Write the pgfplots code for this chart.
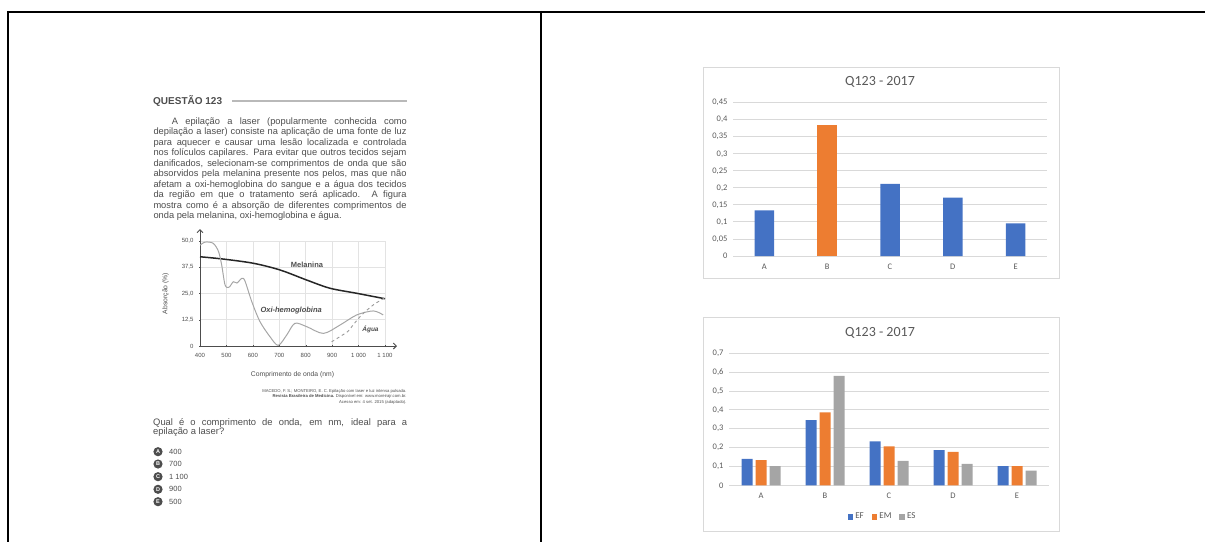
\documentclass[border=0pt]{standalone}
\usepackage{fontspec}
\setmainfont{Carlito}
\newfontfamily\scanfont{Liberation Sans}
\usepackage{pgfplots}
\pgfplotsset{compat=1.18}
\usetikzlibrary{arrows.meta}

\definecolor{exblue}{HTML}{4472C4}
\definecolor{exorange}{HTML}{ED7D31}
\definecolor{exgray}{HTML}{A5A5A5}
\definecolor{txtgray}{HTML}{595959}
\definecolor{gridgray}{HTML}{D9D9D9}
\definecolor{scantext}{HTML}{4D4D4D}

\pgfplotsset{
  excelbars/.style={
    scale only axis,
    xmin=-0.5, xmax=4.5, ymin=0,
    xtick={0,1,2,3,4},
    xticklabels={A,B,C,D,E},
    ymajorgrids,
    grid style={draw=gridgray, line width=0.9pt},
    axis line style={draw=none},
    major tick length=0pt,
    scaled y ticks=false,
    tick label style={font=\fontsize{8.5}{9}\selectfont, text=txtgray},
    yticklabel style={/pgf/number format/fixed, /pgf/number format/precision=2,
      /pgf/number format/use comma, /pgf/number format/assume math mode=true, xshift=-2pt},
    xticklabel style={yshift=-4.5pt},
    ybar, clip=false,
  },
}

\begin{document}
\begin{tikzpicture}[x=1pt, y=1pt]
\path[use as bounding box] (0,0) rectangle (1205,542);

% table rules
\draw[line width=2pt] (7,530) -- (1205,530);
\draw[line width=2pt] (8,531) -- (8,0);
\draw[line width=2pt] (541,531) -- (541,0);

% ---------- scanned question ----------
\begin{scope}[every node/.style={inner sep=0pt, text=scantext}]
\node[anchor=west, font=\scanfont\bfseries\fontsize{10}{10}\selectfont] at (153,441) {QUESTÃO 123};
\draw[gray!55, line width=1.6pt] (232,441) -- (407,441);

\begin{scope}[every node/.append style={anchor=west, font=\scanfont\fontsize{9.3}{10}\selectfont}]
\node at (171.7,420) {\makebox[235pt][s]{A epilação a laser (popularmente conhecida como}};
\node at (153.3,409.5) {\makebox[253pt][s]{depilação a laser) consiste na aplicação de uma fonte de luz}};
\node at (153.3,399) {\makebox[253pt][s]{para aquecer e causar uma lesão localizada e controlada}};
\node at (153.3,388.5) {\makebox[253pt][s]{nos folículos capilares. Para evitar que outros tecidos sejam}};
\node at (153.3,378) {\makebox[253pt][s]{danificados, selecionam-se comprimentos de onda que são}};
\node at (153.3,367.5) {\makebox[253pt][s]{absorvidos pela melanina presente nos pelos, mas que não}};
\node at (153.3,357) {\makebox[253pt][s]{afetam a oxi-hemoglobina do sangue e a água dos tecidos}};
\node at (153.3,346.5) {\makebox[253pt][s]{da região em que o tratamento será aplicado. A figura}};
\node at (153.3,336) {\makebox[253pt][s]{mostra como é a absorção de diferentes comprimentos de}};
\node at (153.3,325.5) {onda pela melanina, oxi-hemoglobina e água.};
\end{scope}

% source
\begin{scope}[every node/.append style={anchor=east, font=\scanfont\fontsize{4.2}{4.5}\selectfont}]
\node at (406.7,151) {MACEDO, F. S.; MONTEIRO, E. C. Epilação com laser e luz intensa pulsada.};
\node at (406.7,145.3) {\textbf{Revista Brasileira de Medicina.} Disponível em: www.moreirajr.com.br.};
\node at (406.7,139.7) {Acesso em: 4 set. 2015 (adaptado).};
\end{scope}

% question
\begin{scope}[every node/.append style={anchor=west, font=\scanfont\fontsize{9.4}{9.4}\selectfont}]
\node at (153,119) {\makebox[254pt][s]{Qual é o comprimento de onda, em nm, ideal para a}};
\node at (153,109.5) {epilação a laser?};
\end{scope}

% options
\foreach \l/\v/\y in {A/400/90.3, B/700/78, C/1 100/65.3, D/900/52.7, E/500/40.3}{
  \fill[scantext] (158,\y) circle (4.6pt);
  \node[text=white, font=\scanfont\bfseries\fontsize{5.5}{5.5}\selectfont] at (158,\y) {\l};
  \node[anchor=west, font=\scanfont\fontsize{7.5}{8}\selectfont] at (169,\y) {\v};
}
\end{scope}

% absorption chart inside the question
\begin{axis}[
  at={(200pt,196pt)}, anchor=south west,
  scale only axis, width=185pt, height=105pt,
  xmin=400, xmax=1100, ymin=0, ymax=50,
  xtick={400,500,600,700,800,900,1000,1100},
  xticklabels={400,500,600,700,800,900,1 000,1 100},
  ytick={0,12.5,25,37.5,50},
  yticklabels={0,{12,5},{25,0},{37,5},{50,0}},
  grid=major, grid style={draw=gray!22, line width=0.6pt},
  axis lines=left,
  axis line style={draw=scantext, line width=1pt, -{Straight Barb[length=3pt, width=6pt]}, shorten >=-12pt},
  major tick length=2pt,
  tick style={draw=scantext},
  tick label style={font=\scanfont\fontsize{6}{6}\selectfont, text=scantext},
  xticklabel style={yshift=-3pt},
  yticklabel style={xshift=-2pt},
  xlabel={Comprimento de onda (nm)},
  ylabel={Absorção (\%)},
  label style={font=\scanfont\fontsize{6.8}{7}\selectfont, text=scantext},
  xlabel style={yshift=-7pt},
  ylabel style={yshift=6pt},
  clip=false,
]
% melanina
\addplot[smooth, draw=black!85, line width=1.5pt] coordinates {
  (400,42.5) (488,41.4) (602,39.4) (703,36.2) (804,31.4) (892,27.5) (993,25.1) (1100,22.5)};
% oxi-hemoglobina
\addplot[smooth, draw=gray!70, line width=1pt] coordinates {
  (400,48) (420,49.5) (450,48.9) (470,45) (482,38.6) (495,29) (510,28) (526,30.6)
  (540,30) (558,32.2) (570,31) (596,21.1) (627,11.6) (665,4.4) (696,0.3) (728,5.2)
  (759,10.8) (804,9.2) (867,6.0) (930,10) (993,14.8) (1056,16.7) (1093,14.8)};
% agua
\addplot[smooth, draw=gray!80, line width=0.9pt, dashed] coordinates {
  (898,2) (930,4.5) (960,7) (979,10) (1012,14.8) (1056,19.6) (1100,23)};
\node[font=\scanfont\bfseries\fontsize{7.5}{8}\selectfont, text=scantext] at (axis cs:805,38.5) {Melanina};
\node[font=\scanfont\itshape\bfseries\fontsize{7.5}{8}\selectfont, text=scantext] at (axis cs:745,17) {Oxi-hemoglobina};
\node[font=\scanfont\itshape\bfseries\fontsize{6.5}{7}\selectfont, text=scantext] at (axis cs:1045,8) {Água};
\end{axis}

% ---------- chart 1 ----------
\draw[gridgray, line width=0.9pt] (703.5,263.7) rectangle (1059.3,474.3);
\node[font=\fontsize{14}{16}\selectfont, text=txtgray] at (880,460) {Q123 - 2017};
\begin{axis}[excelbars,
  at={(733pt,286pt)}, anchor=south west,
  width=314pt, height=153.3pt,
  ymax=0.45,
  ytick={0,0.05,0.1,0.15,0.2,0.25,0.3,0.35,0.4,0.45},
  bar width=19.5pt, bar shift=0pt,
]
\addplot[fill=exblue, draw=none] coordinates {(0,0.134) (2,0.212) (3,0.171) (4,0.096)};
\addplot[fill=exorange, draw=none] coordinates {(1,0.385)};
\end{axis}

% ---------- chart 2 ----------
\draw[gridgray, line width=0.9pt] (703.5,11) rectangle (1059.3,224.3);
\node[font=\fontsize{14}{16}\selectfont, text=txtgray] at (880,209) {Q123 - 2017};
\begin{axis}[excelbars,
  at={(729pt,56.7pt)}, anchor=south west,
  width=320pt, height=132pt,
  ymax=0.7,
  ytick={0,0.1,0.2,0.3,0.4,0.5,0.6,0.7},
  bar width=11pt, ybar=3pt,
  legend style={draw=none, fill=none, legend columns=3, at={(0.48,-0.238)}, anchor=center,
    font=\fontsize{9}{9}\selectfont, text=txtgray,
    /tikz/every even column/.append style={column sep=6pt}},
  legend image code/.code={\fill[#1] (0pt,-2.8pt) rectangle (5.6pt,2.8pt);},
]
\addplot[fill=exblue, draw=none] coordinates {(0,0.140) (1,0.345) (2,0.233) (3,0.187) (4,0.102)};
\addplot[fill=exorange, draw=none] coordinates {(0,0.134) (1,0.387) (2,0.207) (3,0.177) (4,0.102)};
\addplot[fill=exgray, draw=none] coordinates {(0,0.102) (1,0.580) (2,0.129) (3,0.113) (4,0.078)};
\legend{EF,EM,ES}
\end{axis}
\end{tikzpicture}
\end{document}
